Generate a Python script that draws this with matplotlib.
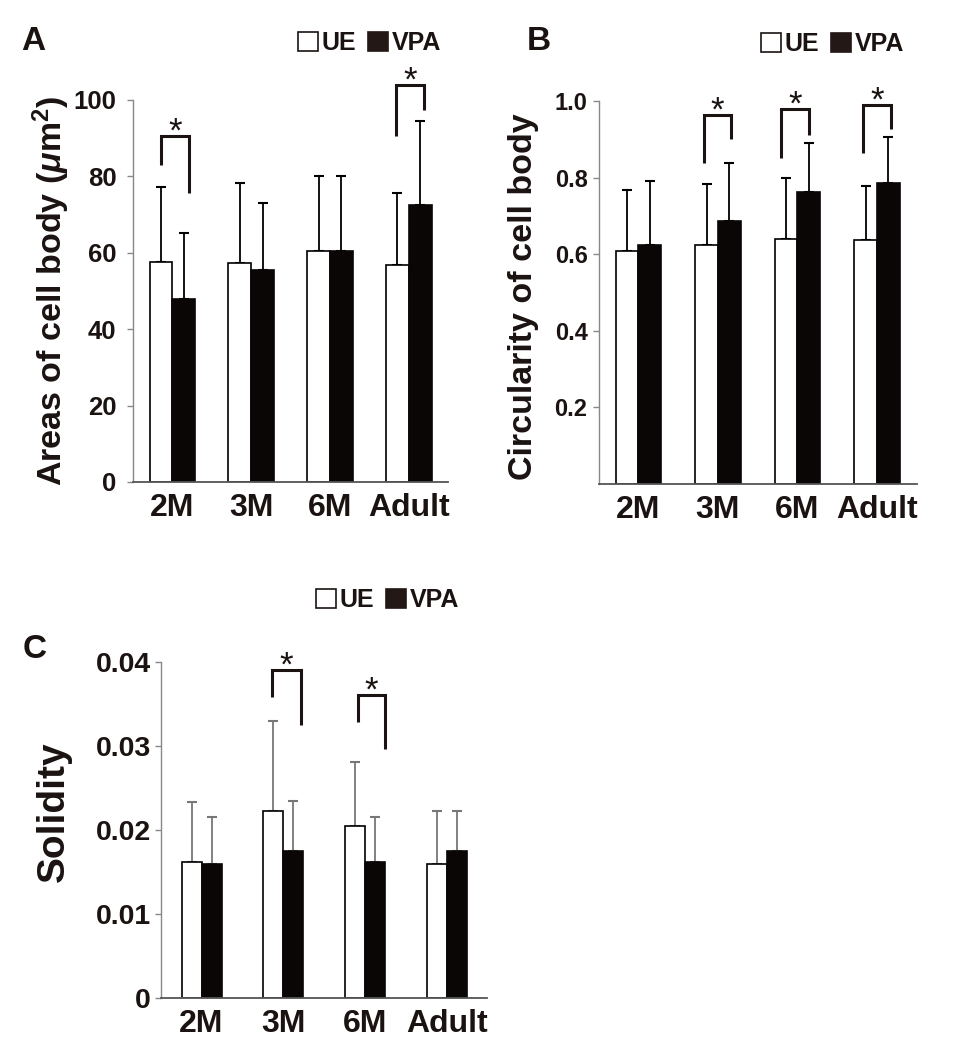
import numpy as np
import matplotlib.pyplot as plt
from matplotlib.patches import Patch

plt.rcParams['font.family'] = ['Liberation Sans', 'DejaVu Sans']
plt.rcParams['font.weight'] = 'bold'
plt.rcParams['mathtext.fontset'] = 'custom'
plt.rcParams['mathtext.rm'] = 'Liberation Sans:bold'
plt.rcParams['mathtext.it'] = 'Liberation Sans:italic:bold'
plt.rcParams['mathtext.bf'] = 'Liberation Sans:bold'

ink = '#1a1311'

groups = ['2M', '3M', '6M', 'Adult']

# A: area of cell body
area_ue = [57.6, 57.2, 60.5, 56.8]
area_ue_sd = [19.5, 21.0, 19.6, 18.9]
area_vpa = [47.9, 55.4, 60.5, 72.6]
area_vpa_sd = [17.2, 17.6, 19.6, 21.9]
# (group, left dx, right dx, left leg bottom, right leg bottom, top)
area_sig = [(0, -0.14, 0.21, 83.0, 75.7, 90.6),
            (3, -0.165, 0.195, 90.6, 97.4, 103.9)]

# B: circularity
circ_ue = [0.609, 0.623, 0.641, 0.637]
circ_ue_sd = [0.158, 0.159, 0.158, 0.140]
circ_vpa = [0.623, 0.688, 0.763, 0.785]
circ_vpa_sd = [0.167, 0.149, 0.126, 0.121]
circ_sig = [(1, -0.18, 0.16, 0.837, 0.902, 0.964),
            (2, -0.205, 0.146, 0.851, 0.910, 0.978),
            (3, -0.18, 0.18, 0.863, 0.928, 0.990)]

# C: solidity
sol_ue = [0.0162, 0.0222, 0.0205, 0.0159]
sol_ue_sd = [0.0071, 0.0108, 0.0076, 0.0063]
sol_vpa = [0.0159, 0.0175, 0.0162, 0.0175]
sol_vpa_sd = [0.0057, 0.0060, 0.0054, 0.0047]
sol_sig = [(1, -0.135, 0.212, 0.0358, 0.0325, 0.0390),
           (2, -0.09, 0.249, 0.0328, 0.0296, 0.0360)]


def draw_panel(ax, ue, ue_sd, vpa, vpa_sd, sig, ylim, yticks, yticklabels,
               ylabel, width, err_color, ylab_size, ytick_size, ypad, ylab_x, ylab_y=0.5):
    x = np.arange(len(groups))
    ax.bar(x - width / 2, ue, width, color='white', edgecolor='black', linewidth=1.2, zorder=2)
    ax.bar(x + width / 2, vpa, width, color='#0a0606', edgecolor='#0a0606', linewidth=1.2, zorder=2)
    zeros = np.zeros(len(groups))
    ax.errorbar(x - width / 2, ue, yerr=[zeros, ue_sd], fmt='none', ecolor=err_color,
                elinewidth=1.3, capsize=3.5, capthick=1.5, zorder=1)
    ax.errorbar(x + width / 2, vpa, yerr=[zeros, vpa_sd], fmt='none', ecolor=err_color,
                elinewidth=1.3, capsize=3.5, capthick=1.5, zorder=1)

    for g, dl, dr, yl, yr, yt in sig:
        ax.plot([g + dl, g + dl, g + dr, g + dr], [yl, yt, yt, yr], color=ink,
                lw=2.2, clip_on=False, solid_capstyle='butt', solid_joinstyle='miter')
        ax.annotate('*', xy=(g + (dl + dr) / 2, yt), xytext=(0, -9), textcoords='offset points',
                    ha='center', va='bottom', fontsize=25, fontweight='normal', color=ink,
                    annotation_clip=False)

    ax.set_xlim(-0.5, len(groups) - 0.5)
    ax.set_ylim(*ylim)
    ax.set_yticks(yticks)
    ax.set_yticklabels(yticklabels, fontsize=ytick_size, fontweight='bold', color=ink)
    ax.set_xticks(x)
    ax.set_xticklabels(groups, fontsize=23, fontweight='bold', color=ink)
    ax.tick_params(axis='x', length=0, pad=8)
    ax.tick_params(axis='y', length=4, width=1, color='#888888', pad=ypad)
    for side in ['top', 'right']:
        ax.spines[side].set_visible(False)
    ax.spines['left'].set_color('#888888')
    ax.spines['left'].set_linewidth(1.0)
    ax.spines['bottom'].set_color('#555555')
    ax.spines['bottom'].set_linewidth(1.3)
    ax.set_ylabel(ylabel, fontsize=ylab_size, fontweight='bold', color=ink)
    ax.yaxis.set_label_coords(ylab_x, ylab_y)


fig = plt.figure(figsize=(9.64, 10.41), dpi=100)

ax_a = fig.add_axes([0.138, 0.537, 0.327, 0.367])
ax_b = fig.add_axes([0.621, 0.535, 0.330, 0.368])
ax_c = fig.add_axes([0.1667, 0.041, 0.339, 0.3234])

draw_panel(ax_a, area_ue, area_ue_sd, area_vpa, area_vpa_sd, area_sig,
           (0, 100), [0, 20, 40, 60, 80, 100], ['0', '20', '40', '60', '80', '100'],
           r'Areas of cell body ($\mu$m$^{2}$)', 0.29, 'black', 24.5, 18.5, 8, -0.194)
draw_panel(ax_b, circ_ue, circ_ue_sd, circ_vpa, circ_vpa_sd, circ_sig,
           (0, 1.0), [0.2, 0.4, 0.6, 0.8, 1.0], ['0.2', '0.4', '0.6', '0.8', '1.0'],
           'Circularity of cell body', 0.285, 'black', 24.5, 17, 4, -0.186, 0.49)
draw_panel(ax_c, sol_ue, sol_ue_sd, sol_vpa, sol_vpa_sd, sol_sig,
           (0, 0.04), [0, 0.01, 0.02, 0.03, 0.04], ['0', '0.01', '0.02', '0.03', '0.04'],
           'Solidity', 0.245, '#777777', 28, 20.5, 3, -0.271, 0.553)

# panel letters
fig.text(21 / 964, 1 - 50 / 1041, 'A', fontsize=24, fontweight='bold', color=ink)
fig.text(527 / 964, 1 - 50 / 1041, 'B', fontsize=24, fontweight='bold', color=ink)
fig.text(23 / 964, 1 - 658 / 1041, 'C', fontsize=24, fontweight='bold', color=ink)

# legends
handles = [Patch(facecolor='white', edgecolor=ink, linewidth=1.2),
           Patch(facecolor='#231815', edgecolor='#231815', linewidth=1.2)]
for lx, ly in [(298, 43), (761, 44), (316, 600)]:
    leg = fig.legend(handles, ['UE', 'VPA'], loc='center left',
                     bbox_to_anchor=(lx / 964, 1 - ly / 1041), ncol=2, frameon=False,
                     prop={'size': 18, 'weight': 'bold'}, handlelength=0.78, handleheight=0.78,
                     handletextpad=0.15, columnspacing=0.5, borderpad=0, borderaxespad=0)
    for t in leg.get_texts():
        t.set_color(ink)

fig.savefig('out.png', dpi=100, facecolor='white')
